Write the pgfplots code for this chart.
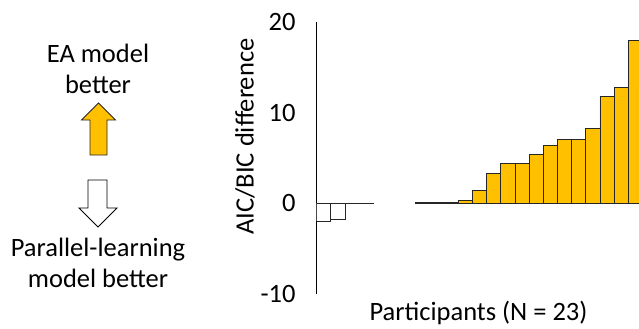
\documentclass[border=0pt]{standalone}
\usepackage{fontspec}
\setmainfont{Carlito}
\usepackage{pgfplots}
\pgfplotsset{compat=1.18}
\definecolor{gold}{HTML}{FFC000}
\definecolor{edge}{HTML}{262626}
\newcommand\fs{\fontsize{26.5bp}{31.5bp}\selectfont}
\begin{document}
\begin{tikzpicture}[x=1bp,y=1bp]
\useasboundingbox (0,0) rectangle (639,328);
% left annotations
\node[anchor=base, font=\fs, inner sep=0pt] at (98,266) {EA model};
\node[anchor=base, font=\fs, inner sep=0pt] at (98,234.5) {better};
\draw[fill=gold, draw=edge, line width=0.8bp] (98.5,225) -- (115.5,208) -- (107,208) -- (107,173) -- (90,173) -- (90,208) -- (81.5,208) -- cycle;
\draw[fill=white, draw=black, line width=0.8bp] (88,148) -- (107,148) -- (107,120) -- (117,120) -- (98,101) -- (79,120) -- (88,120) -- cycle;
\node[anchor=base, font=\fs, inner sep=0pt] at (98,72) {Parallel-learning};
\node[anchor=base, font=\fs, inner sep=0pt] at (98,41) {model better};
\node[anchor=base, font=\fs, inner sep=0pt] at (478.5,8) {Participants (N = 23)};
\begin{axis}[
  at={(316.7bp,34.5bp)}, anchor=south west,
  scale only axis, width=322.3bp, height=271.5bp,
  xmin=0.5, xmax=23.26, ymin=-10, ymax=20,
  axis y line=left, axis x line=none,
  axis line style={-, black, line width=0.8bp},
  ytick={-10,0,10,20}, yticklabels={-10,0,10,20},
  major tick length=0pt,
  yticklabel style={font=\fs, anchor=east, inner sep=0pt, xshift=-21bp},
  ylabel={AIC/BIC difference},
  ylabel style={font=\fs, at={(axis description cs:-0.2225,0.578)}, anchor=center, rotate=0},
  ybar, clip=true,
]
\addplot[ybar, bar width=14.16bp, bar shift=0pt, fill=white, draw=edge, line width=0.8bp]
  coordinates {(1,-2.0) (2,-1.85) (3,-0.08) (4,-0.08)};
\addplot[ybar, bar width=14.16bp, bar shift=0pt, fill=gold, draw=edge, line width=0.8bp]
  coordinates {(8,0.05) (9,0.05) (10,0.08) (11,0.25) (12,1.4) (13,3.25) (14,4.37) (15,4.4) (16,5.41) (17,6.36) (18,7.0) (19,7.03) (20,8.2) (21,11.8) (22,12.8) (23,18.0)};
\end{axis}
\end{tikzpicture}
\end{document}
